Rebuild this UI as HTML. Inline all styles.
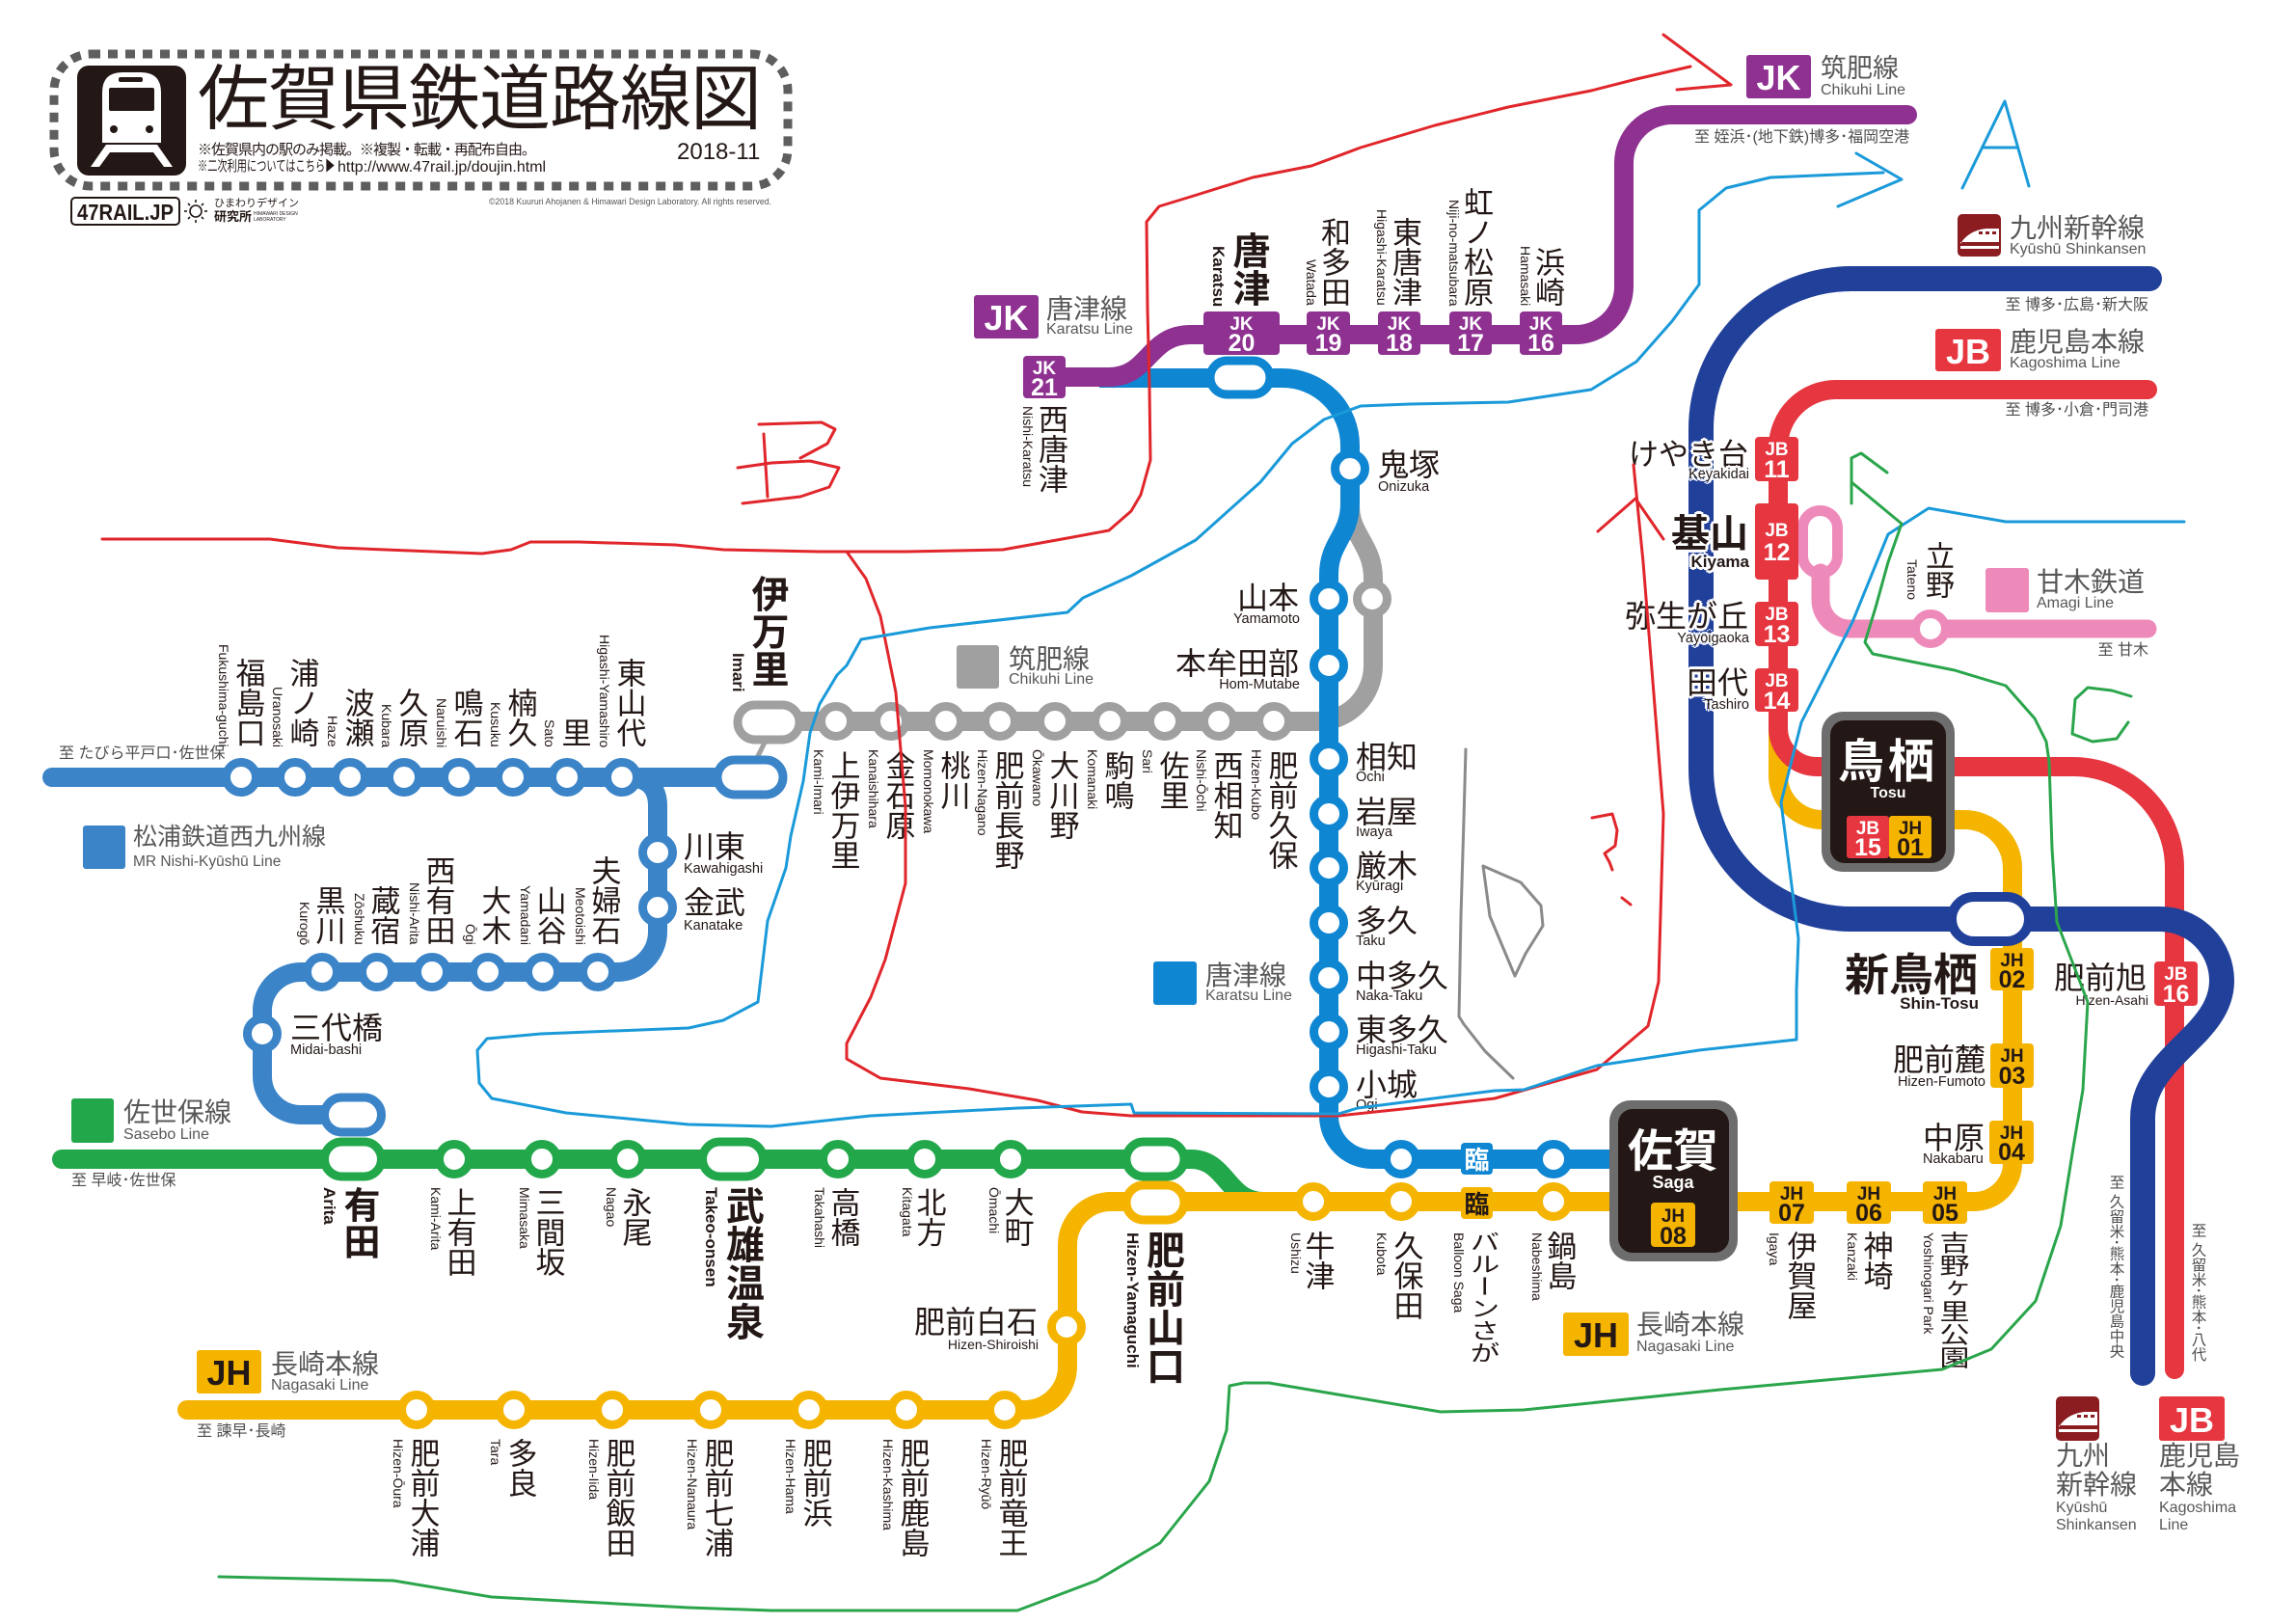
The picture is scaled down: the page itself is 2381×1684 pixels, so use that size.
<!DOCTYPE html>
<html><head><meta charset="utf-8"><title>佐賀県鉄道路線図</title>
<style>
html,body{margin:0;padding:0;background:#fff}
#c{position:relative;width:2381px;height:1684px;overflow:hidden;background:#fff}
svg{position:absolute;left:0;top:0}
.t{position:absolute;line-height:1;white-space:nowrap;color:#231815;font-family:"Liberation Sans","Noto Sans CJK JP",sans-serif}
.v{writing-mode:vertical-rl}
.b{font-weight:bold}
.k{font-size:31px}
.k32{font-size:32px}
.r{font-size:14px}
.rb{font-size:17px;font-weight:bold}
.re{font-size:14.5px}
.lg{font-size:28px;color:#595757}
.le{font-size:16px;color:#595757}
.to{font-size:16px;color:#4d4d4d}
.hl{text-shadow:-2px -2px 0 #fff,2px -2px 0 #fff,-2px 2px 0 #fff,2px 2px 0 #fff,0 -3px 0 #fff,0 3px 0 #fff,-3px 0 0 #fff,3px 0 0 #fff}
</style></head>
<body><div id="c">
<svg xmlns="http://www.w3.org/2000/svg" width="2381" height="1684" viewBox="0 0 2381 1684" style="font-family:'Liberation Sans','Noto Sans CJK JP',sans-serif">
<!-- title block -->
<rect x="56" y="56" width="761" height="137" rx="38" fill="none" stroke="#5e5e5e" stroke-width="9" stroke-dasharray="10 8"/>
<rect x="80" y="68" width="113" height="114" rx="12" fill="#231815"/>
<path d="M106,148 V96 Q106,75 127,75 H146 Q167,75 167,96 V148 Z" fill="#fff"/>
<rect x="113" y="91" width="47" height="24" rx="2" fill="#231815"/>
<rect x="123" y="80" width="25" height="5" rx="2" fill="#231815"/>
<circle cx="118" cy="134" r="4" fill="#231815"/>
<circle cx="155" cy="134" r="4" fill="#231815"/>
<path d="M110,150 L94,173 H103 L114,158 H159 L170,173 H179 L163,150 Z" fill="#fff"/>
<rect x="74" y="205" width="112" height="28" rx="4" fill="#fff" stroke="#231815" stroke-width="2"/>
<text x="130" y="228" font-size="23" font-weight="bold" text-anchor="middle" fill="#231815" textLength="100" lengthAdjust="spacingAndGlyphs">47RAIL.JP</text>
<circle cx="203" cy="219" r="6" fill="none" stroke="#231815" stroke-width="1.6"/>
<g stroke="#231815" stroke-width="1.6"><line x1="203" y1="207" x2="203" y2="210"/><line x1="203" y1="228" x2="203" y2="231"/><line x1="191" y1="219" x2="194" y2="219"/><line x1="212" y1="219" x2="215" y2="219"/><line x1="195" y1="211" x2="197" y2="213"/><line x1="209" y1="225" x2="211" y2="227"/><line x1="195" y1="227" x2="197" y2="225"/><line x1="209" y1="213" x2="211" y2="211"/></g>
<text x="507" y="212" font-size="9" fill="#555" textLength="293" lengthAdjust="spacingAndGlyphs">©2018 Kuururi Ahojanen &amp; Himawari Design Laboratory. All rights reserved.</text>

<!-- lines -->
<g fill="none" stroke-width="20">
<path d="M797,748 H1366 A58,58 0 0 0 1424,690 V600 C1424,565 1400,555 1400,525" stroke="#a0a0a0"/>
<line x1="793" y1="770" x2="785" y2="786" stroke="#a0a0a0" stroke-width="5"/>
<path d="M54,806 H778" stroke="#3b84c8" stroke-linecap="round"/>
<path d="M650,806 Q682,806 682,836 V966 A42,42 0 0 1 640,1008 H312 A40,40 0 0 0 272,1048 V1116 A40,40 0 0 0 312,1156 H366" stroke="#3b84c8"/>
<path d="M64,1202 H1235 C1272,1202 1272,1246 1310,1246" stroke="#22a84b" stroke-linecap="round"/>
<path d="M194,1462 H1062 A45,45 0 0 0 1107,1417 V1291 A45,45 0 0 1 1152,1246 H2047 A40,40 0 0 0 2087,1206 V900 A50,50 0 0 0 2037,850 H1890 A46,46 0 0 1 1844,804 V755" stroke="#f5b400" stroke-linecap="round"/>
<path d="M1140,392 H1330 A70,70 0 0 1 1400,462 V522 C1400,556 1378,562 1378,596 V1157 A45,45 0 0 0 1423,1202 H1680" stroke="#0f86d2"/>
<path d="M1083,391 H1150 C1192,391 1190,347 1235,347 H1634 A50,50 0 0 0 1684,297 V169 A50,50 0 0 1 1734,119 H1978" stroke="#8e3191" stroke-linecap="round"/>
<path d="M1888,594 V622 A30,30 0 0 0 1918,652 H2227" stroke="#ee8ab9" stroke-width="19" stroke-linecap="round"/>
<rect x="1869.5" y="529.5" width="36" height="65" rx="18" stroke="#ee8ab9" stroke-width="11"/>
<path d="M2227,404 H1904 A60,60 0 0 0 1844,464 V755 A40,40 0 0 0 1884,795 H2150 A105,105 0 0 1 2255,900 V1420" stroke="#e6363f" stroke-linecap="round"/>
<path d="M2229,289 H1920 A156,156 0 0 0 1764,445 V797 A156,156 0 0 0 1920,953 H2240 A64,64 0 0 1 2304,1017 C2304,1075 2222,1095 2222,1160 V1424" stroke="#21409a" stroke-width="26" stroke-linecap="round"/>
</g>

<!-- stations -->
<g fill="#fff" stroke-width="9">
<g stroke="#a0a0a0">
<circle cx="867" cy="748" r="15.5"/><circle cx="924" cy="748" r="15.5"/><circle cx="981" cy="748" r="15.5"/><circle cx="1037" cy="748" r="15.5"/><circle cx="1094" cy="748" r="15.5"/><circle cx="1151" cy="748" r="15.5"/><circle cx="1208" cy="748" r="15.5"/><circle cx="1264" cy="748" r="15.5"/><circle cx="1321" cy="748" r="15.5"/><circle cx="1423" cy="621" r="15.5"/>
<rect x="765" y="731" width="64" height="36" rx="18"/>
</g>
<g stroke="#3b84c8">
<circle cx="250" cy="806" r="15.5"/><circle cx="306" cy="806" r="15.5"/><circle cx="363" cy="806" r="15.5"/><circle cx="419" cy="806" r="15.5"/><circle cx="476" cy="806" r="15.5"/><circle cx="532" cy="806" r="15.5"/><circle cx="588" cy="806" r="15.5"/><circle cx="645" cy="806" r="15.5"/>
<circle cx="682" cy="884" r="15.5"/><circle cx="682" cy="941" r="15.5"/>
<circle cx="334" cy="1008" r="15.5"/><circle cx="391" cy="1008" r="15.5"/><circle cx="448" cy="1008" r="15.5"/><circle cx="506" cy="1008" r="15.5"/><circle cx="563" cy="1008" r="15.5"/><circle cx="620" cy="1008" r="15.5"/>
<circle cx="272" cy="1072" r="15.5"/>
<rect x="744" y="788" width="68" height="36" rx="18"/>
<rect x="336.5" y="1138" width="59" height="36" rx="18"/>
</g>
<g stroke="#0f86d2">
<circle cx="1400" cy="486" r="15.5"/><circle cx="1378" cy="621" r="15.5"/><circle cx="1378" cy="690" r="15.5"/><circle cx="1378" cy="787" r="15.5"/><circle cx="1378" cy="844" r="15.5"/><circle cx="1378" cy="900" r="15.5"/><circle cx="1378" cy="957" r="15.5"/><circle cx="1378" cy="1014" r="15.5"/><circle cx="1378" cy="1070" r="15.5"/><circle cx="1378" cy="1127" r="15.5"/><circle cx="1453" cy="1202" r="15.5"/><circle cx="1611" cy="1202" r="15.5"/>
<rect x="1255" y="374" width="62" height="35" rx="17.5"/>
</g>
<g stroke="#22a84b">
<circle cx="471" cy="1202" r="15.5"/><circle cx="562" cy="1202" r="15.5"/><circle cx="651" cy="1202" r="15.5"/><circle cx="869" cy="1202" r="15.5"/><circle cx="959" cy="1202" r="15.5"/><circle cx="1048" cy="1202" r="15.5"/>
<rect x="336.5" y="1184" width="59" height="36" rx="18"/>
<rect x="728.5" y="1184" width="63" height="36" rx="18"/>
<rect x="1168" y="1184" width="60" height="36" rx="18"/>
</g>
<g stroke="#f5b400">
<circle cx="432" cy="1462" r="15.5"/><circle cx="533" cy="1462" r="15.5"/><circle cx="635" cy="1462" r="15.5"/><circle cx="737" cy="1462" r="15.5"/><circle cx="839" cy="1462" r="15.5"/><circle cx="940" cy="1462" r="15.5"/><circle cx="1042" cy="1462" r="15.5"/><circle cx="1106" cy="1376" r="15.5"/><circle cx="1362" cy="1246" r="15.5"/><circle cx="1453" cy="1246" r="15.5"/><circle cx="1611" cy="1246" r="15.5"/>
<rect x="1168" y="1229" width="60" height="36" rx="18"/>
</g>
<circle cx="2002" cy="652" r="15.5" stroke="#ee8ab9"/>
<rect x="2024" y="930" width="80" height="46" rx="23" stroke="#21409a" stroke-width="10"/>
</g>

<!-- rin squares -->
<rect x="1515" y="1185" width="33" height="33" rx="4" fill="#0f86d2"/>
<text x="1531.5" y="1212" font-size="26" font-weight="bold" fill="#fff" text-anchor="middle">臨</text>
<rect x="1515" y="1231" width="33" height="33" rx="4" fill="#f5b400"/>
<text x="1531.5" y="1258" font-size="26" font-weight="bold" fill="#231815" text-anchor="middle">臨</text>

<!-- Tosu box -->
<rect x="1889" y="738" width="138" height="166" rx="22" fill="#6d6d6d"/>
<rect x="1898" y="747" width="120" height="148" rx="15" fill="#231815"/>
<text x="1958" y="806" font-size="48" font-weight="bold" fill="#fff" text-anchor="middle" letter-spacing="4">鳥栖</text>
<text x="1958" y="827" font-size="16" font-weight="bold" fill="#fff" text-anchor="middle">Tosu</text>
<!-- Saga box -->
<rect x="1669" y="1141" width="133" height="167" rx="22" fill="#6d6d6d"/>
<rect x="1678" y="1150" width="115" height="149" rx="15" fill="#231815"/>
<text x="1735" y="1210" font-size="47" font-weight="bold" fill="#fff" text-anchor="middle">佐賀</text>
<text x="1735" y="1232" font-size="18" font-weight="bold" fill="#fff" text-anchor="middle">Saga</text>

<!-- badges -->
<g font-weight="bold" text-anchor="middle">
<g fill="#8e3191">
<rect x="1061" y="369" width="44" height="44" rx="4"/><rect x="1248" y="323" width="79" height="45" rx="4"/><rect x="1355" y="323" width="45" height="45" rx="4"/><rect x="1429" y="323" width="44" height="45" rx="4"/><rect x="1503" y="323" width="44" height="45" rx="4"/><rect x="1576" y="323" width="44" height="45" rx="4"/>
<rect x="1010" y="306" width="67" height="45" rx="3"/><rect x="1811" y="57" width="67" height="45" rx="3"/>
</g>
<g fill="#fff" font-size="19">
<text x="1083" y="388">JK</text><text x="1287.5" y="342">JK</text><text x="1377.5" y="342">JK</text><text x="1451" y="342">JK</text><text x="1525" y="342">JK</text><text x="1598" y="342">JK</text>
</g>
<g fill="#fff" font-size="25">
<text x="1083" y="410">21</text><text x="1287.5" y="364">20</text><text x="1377.5" y="364">19</text><text x="1451" y="364">18</text><text x="1525" y="364">17</text><text x="1598" y="364">16</text>
</g>
<text x="1043.5" y="342" font-size="36" fill="#fff">JK</text>
<text x="1844.5" y="93" font-size="36" fill="#fff">JK</text>
<g fill="#e6363f">
<rect x="1820" y="453" width="45" height="46" rx="4"/><rect x="1820" y="522" width="45" height="79" rx="4"/><rect x="1820" y="624" width="45" height="46" rx="4"/><rect x="1820" y="693" width="45" height="45" rx="4"/><rect x="2234" y="997" width="45" height="46" rx="4"/><rect x="1915" y="846" width="44" height="44" rx="3"/>
<rect x="2007" y="341" width="68" height="44" rx="3"/><rect x="2239" y="1448" width="68" height="46" rx="3"/>
</g>
<g fill="#fff" font-size="19">
<text x="1842.5" y="472">JB</text><text x="1842.5" y="556">JB</text><text x="1842.5" y="643">JB</text><text x="1842.5" y="712">JB</text><text x="2256.5" y="1016">JB</text><text x="1937" y="865">JB</text>
</g>
<g fill="#fff" font-size="25">
<text x="1842.5" y="495">11</text><text x="1842.5" y="581">12</text><text x="1842.5" y="666">13</text><text x="1842.5" y="735">14</text><text x="2256.5" y="1039">16</text><text x="1937" y="887">15</text>
</g>
<text x="2041" y="377" font-size="36" fill="#fff">JB</text>
<text x="2273" y="1485" font-size="36" fill="#fff">JB</text>
<g fill="#f5b400">
<rect x="1959" y="846" width="44" height="44" rx="3"/><rect x="2064" y="983" width="45" height="44" rx="4"/><rect x="2064" y="1082" width="45" height="46" rx="4"/><rect x="2063" y="1162" width="46" height="45" rx="4"/><rect x="1994" y="1225" width="46" height="44" rx="4"/><rect x="1915" y="1225" width="46" height="44" rx="4"/><rect x="1835" y="1225" width="46" height="44" rx="4"/><rect x="1712" y="1247" width="46" height="46" rx="4"/>
<rect x="204" y="1400" width="67" height="45" rx="3"/><rect x="1621" y="1361" width="68" height="45" rx="3"/>
</g>
<g fill="#231815" font-size="19">
<text x="1981" y="865">JH</text><text x="2086.5" y="1002">JH</text><text x="2086.5" y="1101">JH</text><text x="2086" y="1181">JH</text><text x="2017" y="1244">JH</text><text x="1938" y="1244">JH</text><text x="1858" y="1244">JH</text><text x="1735" y="1267">JH</text>
</g>
<g fill="#231815" font-size="25">
<text x="1981" y="887">01</text><text x="2086.5" y="1024">02</text><text x="2086.5" y="1124">03</text><text x="2086" y="1203">04</text><text x="2017" y="1266">05</text><text x="1938" y="1266">06</text><text x="1858" y="1266">07</text><text x="1735" y="1290">08</text>
</g>
<text x="237.5" y="1436" font-size="36" fill="#231815">JH</text>
<text x="1655" y="1397" font-size="36" fill="#231815">JH</text>
</g>

<!-- legend squares -->
<rect x="992" y="669" width="44" height="45" rx="3" fill="#a0a0a0"/>
<rect x="1196" y="997" width="45" height="45" rx="3" fill="#0f86d2"/>
<rect x="86" y="856" width="44" height="45" rx="3" fill="#3b84c8"/>
<rect x="74" y="1139" width="44" height="46" rx="3" fill="#22a84b"/>
<rect x="2059" y="589" width="45" height="46" rx="3" fill="#ee8ab9"/>
<!-- shinkansen icons -->
<g transform="translate(2030,222)">
<rect width="45" height="44" rx="5" fill="#8b1c20"/>
<path d="M3,31 C8,22 18,16 30,15 H43 V29 H3 Z" fill="#fff"/>
<rect x="22" y="18" width="4" height="3" fill="#8b1c20"/><rect x="29" y="18" width="4" height="3" fill="#8b1c20"/><rect x="36" y="18" width="4" height="3" fill="#8b1c20"/>
<rect x="3" y="33" width="40" height="3" fill="#fff"/>
</g>
<g transform="translate(2132,1448)">
<rect width="45" height="46" rx="5" fill="#8b1c20"/>
<path d="M3,32 C8,23 18,17 30,16 H43 V30 H3 Z" fill="#fff"/>
<rect x="22" y="19" width="4" height="3" fill="#8b1c20"/><rect x="29" y="19" width="4" height="3" fill="#8b1c20"/><rect x="36" y="19" width="4" height="3" fill="#8b1c20"/>
<rect x="3" y="34" width="40" height="3" fill="#fff"/>
</g>
</svg>

<!-- title text -->
<div class="t" style="left:205px;top:66px;font-size:74px;letter-spacing:-1px">佐賀県鉄道路線図</div>
<div class="t" style="left:205px;top:148px;font-size:15px;letter-spacing:-1px">※佐賀県内の駅のみ掲載。※複製・転載・再配布自由。</div>
<div class="t" style="left:205px;top:165px;font-size:15px;transform:scaleX(0.68);transform-origin:0 0">※二次利用についてはこちら▶</div>
<div class="t" style="left:350px;top:166px;font-size:16px">http://www.47rail.jp/doujin.html</div>
<div class="t" style="left:702px;top:146px;font-size:24px">2018-11</div>
<div class="t" style="left:222px;top:206px;font-size:11px">ひまわりデザイン</div>
<div class="t b" style="left:222px;top:218px;font-size:13px">研究所</div>
<div class="t" style="left:263px;top:220px;font-size:5px">HIMAWARI DESIGN</div>
<div class="t" style="left:263px;top:226px;font-size:5px">LABORATORY</div>

<!-- legends -->
<div class="t lg" style="left:1085px;top:307px">唐津線</div>
<div class="t le" style="left:1085px;top:334px">Karatsu Line</div>
<div class="t lg" style="left:1888px;top:58px;font-size:27px">筑肥線</div>
<div class="t le" style="left:1888px;top:86px">Chikuhi Line</div>
<div class="t to" style="left:1757px;top:135px">至 姪浜･(地下鉄)博多･福岡空港</div>
<div class="t lg" style="left:2084px;top:223px">九州新幹線</div>
<div class="t le" style="left:2084px;top:251px">Kyūshū Shinkansen</div>
<div class="t to" style="right:153px;top:309px">至 博多･広島･新大阪</div>
<div class="t lg" style="left:2084px;top:341px">鹿児島本線</div>
<div class="t le" style="left:2084px;top:369px">Kagoshima Line</div>
<div class="t to" style="right:153px;top:418px">至 博多･小倉･門司港</div>
<div class="t lg" style="left:2112px;top:590px">甘木鉄道</div>
<div class="t le" style="left:2112px;top:618px">Amagi Line</div>
<div class="t to" style="right:153px;top:667px">至 甘木</div>
<div class="t lg" style="left:1046px;top:670px">筑肥線</div>
<div class="t le" style="left:1046px;top:697px">Chikuhi Line</div>
<div class="t lg" style="left:1250px;top:998px">唐津線</div>
<div class="t le" style="left:1250px;top:1025px">Karatsu Line</div>
<div class="t lg" style="left:138px;top:856px;font-size:25px">松浦鉄道西九州線</div>
<div class="t le" style="left:138px;top:886px;font-size:15.5px">MR Nishi-Kyūshū Line</div>
<div class="t to" style="left:61px;top:774px">至 たびら平戸口･佐世保</div>
<div class="t lg" style="left:128px;top:1140px">佐世保線</div>
<div class="t le" style="left:128px;top:1169px">Sasebo Line</div>
<div class="t to" style="left:74px;top:1217px">至 早岐･佐世保</div>
<div class="t lg" style="left:281px;top:1401px">長崎本線</div>
<div class="t le" style="left:281px;top:1429px">Nagasaki Line</div>
<div class="t to" style="left:204px;top:1477px">至 諫早･長崎</div>
<div class="t lg" style="left:1697px;top:1360px">長崎本線</div>
<div class="t le" style="left:1697px;top:1389px">Nagasaki Line</div>
<div class="t lg" style="left:2132px;top:1496px">九州</div>
<div class="t lg" style="left:2132px;top:1526px">新幹線</div>
<div class="t le" style="left:2132px;top:1556px">Kyūshū</div>
<div class="t le" style="left:2132px;top:1574px">Shinkansen</div>
<div class="t lg" style="left:2239px;top:1496px">鹿児島</div>
<div class="t lg" style="left:2239px;top:1526px">本線</div>
<div class="t le" style="left:2239px;top:1556px">Kagoshima</div>
<div class="t le" style="left:2239px;top:1574px">Line</div>
<div class="t v to" style="left:2186px;top:1218px;font-size:15.5px">至 久留米･熊本･鹿児島中央</div>
<div class="t v to" style="left:2271px;top:1268px;font-size:15.5px">至 久留米･熊本･八代</div>

<!-- Karatsu/Chikuhi JK labels -->
<div class="t v b" style="font-size:39px;left:1275px;bottom:1366px">唐津</div>
<div class="t v rb" style="left:1255px;bottom:1366px">Karatsu</div>
<div class="t v k" style="left:1367px;bottom:1366px">和多田</div>
<div class="t v r" style="left:1353px;bottom:1367px">Watada</div>
<div class="t v k" style="left:1441px;bottom:1366px">東唐津</div>
<div class="t v r" style="left:1426px;bottom:1367px">Higashi-Karatsu</div>
<div class="t v k" style="left:1515px;bottom:1366px">虹ノ松原</div>
<div class="t v r" style="left:1501px;bottom:1367px">Niji-no-matsubara</div>
<div class="t v k" style="left:1589px;bottom:1366px">浜崎</div>
<div class="t v r" style="left:1575px;bottom:1367px">Hamasaki</div>
<div class="t v k" style="left:1074px;top:419px">西唐津</div>
<div class="t v r" style="left:1059px;top:421px">Nishi-Karatsu</div>

<!-- Karatsu line blue labels -->
<div class="t k32" style="left:1429px;top:466px">鬼塚</div>
<div class="t re" style="left:1429px;top:498px">Onizuka</div>
<div class="t k32" style="right:1034px;top:604px">山本</div>
<div class="t re" style="right:1033px;top:635px">Yamamoto</div>
<div class="t k32" style="right:1034px;top:672px">本牟田部</div>
<div class="t re" style="right:1033px;top:703px">Hom-Mutabe</div>
<div class="t k32" style="left:1406px;top:769px">相知</div>
<div class="t re" style="left:1406px;top:799px">Ōchi</div>
<div class="t k32" style="left:1406px;top:826px">岩屋</div>
<div class="t re" style="left:1406px;top:856px">Iwaya</div>
<div class="t k32" style="left:1406px;top:882px">厳木</div>
<div class="t re" style="left:1406px;top:912px">Kyūragi</div>
<div class="t k32" style="left:1406px;top:939px">多久</div>
<div class="t re" style="left:1406px;top:969px">Taku</div>
<div class="t k32" style="left:1406px;top:996px">中多久</div>
<div class="t re" style="left:1406px;top:1026px">Naka-Taku</div>
<div class="t k32" style="left:1406px;top:1052px">東多久</div>
<div class="t re" style="left:1406px;top:1082px">Higashi-Taku</div>
<div class="t k32" style="left:1406px;top:1109px">小城</div>
<div class="t re" style="left:1406px;top:1139px">Ogi</div>

<!-- Imari / Chikuhi gray labels -->
<div class="t v b" style="font-size:39px;left:776px;top:596px">伊万里</div>
<div class="t v rb" style="left:757px;bottom:966px">Imari</div>
<div class="t v k" style="left:858.5px;top:777.5px">上伊万里</div>
<div class="t v r" style="left:842px;top:777px">Kami-Imari</div>
<div class="t v k" style="left:915.5px;top:777.5px">金石原</div>
<div class="t v r" style="left:899px;top:777px">Kanaishihara</div>
<div class="t v k" style="left:972.5px;top:777.5px">桃川</div>
<div class="t v r" style="left:956px;top:777px">Momonokawa</div>
<div class="t v k" style="left:1028.5px;top:777.5px">肥前長野</div>
<div class="t v r" style="left:1012px;top:777px">Hizen-Nagano</div>
<div class="t v k" style="left:1085.5px;top:777.5px">大川野</div>
<div class="t v r" style="left:1069px;top:777px">Ōkawano</div>
<div class="t v k" style="left:1142.5px;top:777.5px">駒鳴</div>
<div class="t v r" style="left:1126px;top:777px">Komanaki</div>
<div class="t v k" style="left:1199.5px;top:777.5px">佐里</div>
<div class="t v r" style="left:1183px;top:777px">Sari</div>
<div class="t v k" style="left:1255.5px;top:777.5px">西相知</div>
<div class="t v r" style="left:1239px;top:777px">Nishi-Ōchi</div>
<div class="t v k" style="left:1312.5px;top:777.5px">肥前久保</div>
<div class="t v r" style="left:1296px;top:777px">Hizen-Kubo</div>

<!-- MR labels upper -->
<div class="t v k" style="left:241.5px;bottom:909.5px">福島口</div>
<div class="t v r" style="left:225px;bottom:909px">Fukushima-guchi</div>
<div class="t v k" style="left:297.5px;bottom:909.5px">浦ノ崎</div>
<div class="t v r" style="left:281px;bottom:909px">Uranosaki</div>
<div class="t v k" style="left:354.5px;bottom:909.5px">波瀬</div>
<div class="t v r" style="left:338px;bottom:909px">Haze</div>
<div class="t v k" style="left:410.5px;bottom:909.5px">久原</div>
<div class="t v r" style="left:394px;bottom:909px">Kubara</div>
<div class="t v k" style="left:467.5px;bottom:909.5px">鳴石</div>
<div class="t v r" style="left:451px;bottom:909px">Naruishi</div>
<div class="t v k" style="left:523.5px;bottom:909.5px">楠久</div>
<div class="t v r" style="left:507px;bottom:909px">Kusuku</div>
<div class="t v k" style="left:579.5px;bottom:909.5px">里</div>
<div class="t v r" style="left:563px;bottom:909px">Sato</div>
<div class="t v k" style="left:636.5px;bottom:909.5px">東山代</div>
<div class="t v r" style="left:620px;bottom:909px">Higashi-Yamashiro</div>
<!-- MR labels lower -->
<div class="t v k" style="left:324.5px;bottom:704.5px">黒川</div>
<div class="t v r" style="left:309px;bottom:704px">Kurogō</div>
<div class="t v k" style="left:381.5px;bottom:704.5px">蔵宿</div>
<div class="t v r" style="left:366px;bottom:704px">Zōshuku</div>
<div class="t v k" style="left:438.5px;bottom:704.5px">西有田</div>
<div class="t v r" style="left:423px;bottom:704px">Nishi-Arita</div>
<div class="t v k" style="left:496.5px;bottom:704.5px">大木</div>
<div class="t v r" style="left:481px;bottom:704px">Ōgi</div>
<div class="t v k" style="left:553.5px;bottom:704.5px">山谷</div>
<div class="t v r" style="left:538px;bottom:704px">Yamadani</div>
<div class="t v k" style="left:610.5px;bottom:704.5px">夫婦石</div>
<div class="t v r" style="left:595px;bottom:704px">Meotoishi</div>
<div class="t k32" style="left:709px;top:862px">川東</div>
<div class="t re" style="left:709px;top:894px">Kawahigashi</div>
<div class="t k32" style="left:709px;top:920px">金武</div>
<div class="t re" style="left:709px;top:953px">Kanatake</div>
<div class="t k32" style="left:301px;top:1050px">三代橋</div>
<div class="t re" style="left:301px;top:1082px">Midai-bashi</div>

<!-- Sasebo labels -->
<div class="t v b" style="font-size:38px;left:352px;top:1230px">有田</div>
<div class="t v rb" style="left:333px;top:1231px">Arita</div>
<div class="t v k" style="left:460.5px;top:1230.5px">上有田</div>
<div class="t v r" style="left:445px;top:1231px">Kami-Arita</div>
<div class="t v k" style="left:552.5px;top:1230.5px">三間坂</div>
<div class="t v r" style="left:537px;top:1231px">Mimasaka</div>
<div class="t v k" style="left:642.5px;top:1230.5px">永尾</div>
<div class="t v r" style="left:627px;top:1231px">Nagao</div>
<div class="t v b" style="font-size:40px;left:749px;top:1230px">武雄温泉</div>
<div class="t v rb" style="left:729px;top:1231px">Takeo-onsen</div>
<div class="t v k" style="left:858.5px;top:1230.5px">高橋</div>
<div class="t v r" style="left:843px;top:1231px">Takahashi</div>
<div class="t v k" style="left:947.5px;top:1230.5px">北方</div>
<div class="t v r" style="left:934px;top:1231px">Kitagata</div>
<div class="t v k" style="left:1038.5px;top:1230.5px">大町</div>
<div class="t v r" style="left:1024px;top:1231px">Ōmachi</div>
<div class="t v b" style="font-size:40px;left:1185px;top:1276px">肥前山口</div>
<div class="t v rb" style="left:1166px;top:1278px">Hizen-Yamaguchi</div>

<!-- Nagasaki labels -->
<div class="t v k" style="left:422.5px;top:1490.5px">肥前大浦</div>
<div class="t v r" style="left:406px;top:1492px">Hizen-Ōura</div>
<div class="t v k" style="left:523.5px;top:1490.5px">多良</div>
<div class="t v r" style="left:507px;top:1492px">Tara</div>
<div class="t v k" style="left:625.5px;top:1490.5px">肥前飯田</div>
<div class="t v r" style="left:609px;top:1492px">Hizen-Iida</div>
<div class="t v k" style="left:727.5px;top:1490.5px">肥前七浦</div>
<div class="t v r" style="left:711px;top:1492px">Hizen-Nanaura</div>
<div class="t v k" style="left:829.5px;top:1490.5px">肥前浜</div>
<div class="t v r" style="left:813px;top:1492px">Hizen-Hama</div>
<div class="t v k" style="left:930.5px;top:1490.5px">肥前鹿島</div>
<div class="t v r" style="left:914px;top:1492px">Hizen-Kashima</div>
<div class="t v k" style="left:1032.5px;top:1490.5px">肥前竜王</div>
<div class="t v r" style="left:1016px;top:1492px">Hizen-Ryūō</div>
<div class="t k32" style="right:1305px;top:1355px">肥前白石</div>
<div class="t r" style="right:1304px;top:1387px">Hizen-Shiroishi</div>
<div class="t v k" style="left:1350.5px;top:1275.5px">牛津</div>
<div class="t v r" style="left:1337px;top:1278px">Ushizu</div>
<div class="t v k" style="left:1442.5px;top:1275.5px">久保田</div>
<div class="t v r" style="left:1426px;top:1278px">Kubota</div>
<div class="t v k" style="left:1521.5px;top:1275.5px;transform:scaleY(0.74);transform-origin:0 0">バルーンさが</div>
<div class="t v r" style="left:1506px;top:1278px">Balloon Saga</div>
<div class="t v k" style="left:1601.5px;top:1275.5px">鍋島</div>
<div class="t v r" style="left:1587px;top:1278px">Nabeshima</div>
<div class="t v k" style="left:1850.5px;top:1275.5px">伊賀屋</div>
<div class="t v r" style="left:1833px;top:1278px">Igaya</div>
<div class="t v k" style="left:1929.5px;top:1275.5px">神埼</div>
<div class="t v r" style="left:1914px;top:1278px">Kanzaki</div>
<div class="t v k" style="left:2008.5px;top:1275.5px;transform:scaleY(0.77);transform-origin:0 0">吉野ヶ里公園</div>
<div class="t v r" style="left:1993px;top:1278px">Yoshinogari Park</div>
<div class="t k32" style="left:1994px;top:1164px">中原</div>
<div class="t re" style="left:1994px;top:1195px">Nakabaru</div>
<div class="t k32" style="right:322px;top:1083px">肥前麓</div>
<div class="t re" style="right:322px;top:1115px">Hizen-Fumoto</div>
<div class="t b" style="right:330px;top:988px;font-size:46px">新鳥栖</div>
<div class="t rb" style="right:329px;top:1032px">Shin-Tosu</div>
<div class="t k32" style="right:155px;top:998px">肥前旭</div>
<div class="t r" style="right:153px;top:1030px">Hizen-Asahi</div>

<!-- Kagoshima labels -->
<div class="t k hl" style="right:568px;top:456px">けやき台</div>
<div class="t re hl" style="right:567px;top:485px">Keyakidai</div>
<div class="t b hl" style="right:568px;top:534px;font-size:40px">基山</div>
<div class="t rb hl" style="right:567px;top:574px">Kiyama</div>
<div class="t k32 hl" style="right:568px;top:623px">弥生が丘</div>
<div class="t re hl" style="right:567px;top:655px">Yayoigaoka</div>
<div class="t k32 hl" style="right:568px;top:692px">田代</div>
<div class="t re hl" style="right:567px;top:724px">Tashiro</div>
<div class="t v" style="left:1993px;top:561px;font-size:30px">立野</div>
<div class="t v r" style="left:1976px;bottom:1062px">Tateno</div>

<!-- hand-drawn scribbles -->
<svg xmlns="http://www.w3.org/2000/svg" width="2381" height="1684" viewBox="0 0 2381 1684">
<g fill="none" stroke-width="3" stroke-linejoin="round" stroke-linecap="round">
<g stroke="#e0262b">
<path d="M106,559 L280,559 L350,568 L500,574 L530,570 L550,562 L600,562 L700,565 L750,570 L850,572 L878,572 L940,572 L1040,570 L1107,558 L1150,550 L1173,530 L1183,513 L1193,477 L1192,402 L1190,320 L1189,230 L1202,214 L1238,203 L1299,184 L1360,172 L1411,153 L1488,130 L1564,111 L1650,94 L1697,82 L1753,69"/>
<path d="M1725,36 L1795,88 L1739,93"/>
<path d="M878,572 L898,600 L913,639 L929,718 L939,837 L939,916 L918,995 L903,1034 L878,1082 L878,1098 L913,1118 L1005,1129 L1076,1141 L1122,1153 L1173,1157 L1388,1157 L1464,1149 L1550,1139 L1656,1109 L1709,1064 L1720,1018 L1725,844 L1714,707 L1704,583 L1694,482"/>
<path d="M1657,551 L1696,517 L1725,559"/>
<path d="M1651,848 L1672,844 L1677,861 L1675,877 L1664,885 L1669,894 L1672,902"/>
<path d="M1682,931 L1691,938"/>
<path d="M787,440 L852,438 L866,445 L858,460 L830,475"/>
<path d="M765,485 L800,480 L840,478 L870,485 L860,505 L830,515 L770,522"/>
<path d="M792,450 L796,515"/>
</g>
<g stroke="#1a9ad9">
<path d="M1953,179 L1836,184 L1790,195 L1762,218 L1762,295 L1734,333 L1697,375 L1650,404 L1564,417 L1462,419 L1411,421 L1373,435 L1340,460 L1307,500 L1240,560 L1173,597 L1123,620 L1107,635 L964,651 L893,663 L878,690 L868,700 L850,730 L840,760 L833,810 L820,867 L815,900 L796,955 L786,1039 L750,1058 L714,1066 L561,1072 L505,1077 L495,1089 L497,1123 L510,1139 L587,1154 L714,1166 L800,1168 L903,1157 L1056,1149 L1173,1145 L1176,1154 L1388,1155 L1408,1149 L1550,1131 L1580,1130 L1656,1105 L1762,1089 L1863,1078 L1863,1026 L1865,973 L1847,832 L1868,749 L1921,645 L1958,554 L2000,527 L2080,541 L2265,541"/>
<path d="M1925,159 L1972,186 L1906,214"/>
<path d="M2035,195 L2079,105 L2104,193 M2056,153 L2091,153"/>
</g>
<g stroke="#2ba54b">
<path d="M1920,475 L1930,470 L1957,490 M1920,476 L1920,522"/>
<path d="M1920,500 L1972,543 L1958,583 L1945,630 L1934,666 L1942,678 L2027,695 L2080,711 L2110,745 L2122,769 L2125,790 L2128,880 L2133,956 L2150,1000 L2165,1039 L2160,1130 L2150,1190 L2137,1271 L2111,1349 L2065,1399 L2014,1420 L1784,1441 L1580,1462 L1494,1464 L1316,1434 L1290,1434 L1275,1437 L1272,1483 L1254,1536 L1203,1600 L1137,1639 L1055,1670 L800,1670 L714,1667 L510,1656 L408,1639 L227,1635"/>
<path d="M2210,722 L2190,716 L2165,713 L2152,725 L2149,761 L2170,769 L2195,766 L2207,749"/>
</g>
<g stroke="#8a8a8a">
<path d="M1520,777 L1518,850 L1515,950 L1513,1054 L1518,1062 L1540,1090 L1569,1118"/>
<path d="M1538,898 L1545,950 L1571,1012"/>
<path d="M1538,898 L1577,915 L1598,939 L1600,960 L1582,989 L1571,1012"/>
</g>
</g>
</svg>
</div></body></html>
